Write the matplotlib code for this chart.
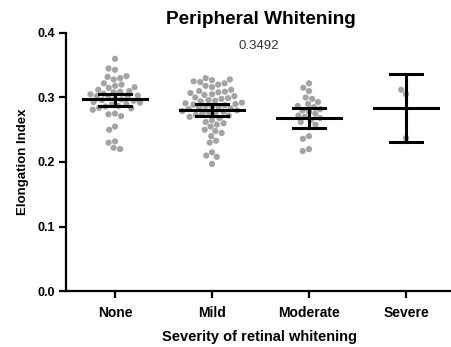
import numpy as np
import matplotlib
matplotlib.use("Agg")
import matplotlib.pyplot as plt

categories = ["None", "Mild", "Moderate", "Severe"]

none_vals = [0.360, 0.345, 0.343, 0.333, 0.332, 0.330, 0.328, 0.322, 0.320, 0.318,
             0.316, 0.315, 0.312, 0.310, 0.309, 0.308, 0.306, 0.305, 0.303, 0.302,
             0.300, 0.299, 0.298, 0.297, 0.296, 0.295, 0.293, 0.292, 0.290, 0.289,
             0.287, 0.286, 0.284, 0.283, 0.281, 0.275, 0.274, 0.271, 0.255, 0.250,
             0.232, 0.230, 0.222, 0.220]
mild_vals = [0.330, 0.328, 0.327, 0.325, 0.324, 0.322, 0.320, 0.318, 0.316, 0.312,
             0.310, 0.309, 0.308, 0.307, 0.305, 0.304, 0.302, 0.300, 0.299, 0.298,
             0.296, 0.295, 0.294, 0.292, 0.291, 0.290, 0.289, 0.288, 0.287, 0.286,
             0.285, 0.284, 0.283, 0.282, 0.280, 0.279, 0.278, 0.277, 0.276, 0.275,
             0.273, 0.272, 0.270, 0.268, 0.265, 0.262, 0.260, 0.258, 0.255, 0.250,
             0.248, 0.245, 0.240, 0.233, 0.230, 0.215, 0.210, 0.208, 0.197]
moderate_vals = [0.322, 0.315, 0.310, 0.300, 0.298, 0.293, 0.290, 0.287, 0.285, 0.282,
                 0.280, 0.278, 0.275, 0.272, 0.270, 0.268, 0.265, 0.262, 0.258, 0.240,
                 0.236, 0.220, 0.217]
severe_vals = [0.312, 0.305, 0.237]

group_values = [none_vals, mild_vals, moderate_vals, severe_vals]
means = [0.297, 0.281, 0.268, 0.284]
err_low = [0.287, 0.272, 0.253, 0.231]
err_high = [0.306, 0.290, 0.283, 0.337]

title = "Peripheral Whitening"
subtitle = "0.3492"
ylabel = "Elongation Index"
xlabel = "Severity of retinal whitening"
yticks = [0.0, 0.1, 0.2, 0.3, 0.4]

fig = plt.figure(figsize=(4.52, 3.47), dpi=100)
ax = fig.add_axes([66/452, 56/347, 386/452, 258/347])
ax.set_xlim(-0.505, 3.474)
ax.set_ylim(0, 0.4)

# pixel scales for swarm layout
xpx = 386 / (3.474 + 0.505)
ypx = 258 / 0.4
d = 6.6

def swarm(vals):
    ys = np.array(vals) * ypx
    order = np.argsort(np.abs(ys - np.median(ys)))
    placed = []
    xs = np.zeros(len(ys))
    for i in order:
        y = ys[i]
        cands = [0.0]
        for (px, py) in placed:
            dy = y - py
            if abs(dy) < d:
                dx = np.sqrt(d * d - dy * dy)
                cands += [px + dx, px - dx]
        cands.sort(key=lambda c: (abs(c), c))
        for c in cands:
            ok = True
            for (px, py) in placed:
                if (c - px) ** 2 + (y - py) ** 2 < d * d - 1e-6:
                    ok = False
                    break
            if ok:
                xs[i] = c
                placed.append((c, y))
                break
    return xs / xpx

for i, vals in enumerate(group_values):
    off = swarm(vals)
    ax.scatter(i + off, vals, s=20, color="#a3a3a3", edgecolors="none", zorder=2)
    ax.plot([i - 0.33, i + 0.33], [means[i], means[i]], color="black", lw=2.2, zorder=3)
    ax.plot([i, i], [err_low[i], err_high[i]], color="black", lw=2.2, zorder=3)
    for yv in (err_low[i], err_high[i]):
        ax.plot([i - 0.165, i + 0.165], [yv, yv], color="black", lw=2.2, zorder=3)

for s in ["top", "right"]:
    ax.spines[s].set_visible(False)
for s in ["left", "bottom"]:
    ax.spines[s].set_linewidth(1.6)

font = "Liberation Sans"
ax.set_xticks(range(len(categories)))
ax.set_xticklabels(categories, fontsize=10, fontweight="bold", family=font)
ax.set_yticks(yticks)
ax.set_yticklabels([f"{v:.1f}" for v in yticks], fontsize=9, fontweight="bold", family=font)
ax.tick_params(axis="both", direction="out", length=5, width=1.6, pad=3)
ax.tick_params(axis="x", pad=6)

ax.set_xlabel(xlabel, fontsize=10.5, fontweight="bold", family=font, labelpad=7)
ax.set_ylabel(ylabel, fontsize=9.5, fontweight="bold", family=font, labelpad=6)

fig.text(261/452, 1 - 19/347, title, ha="center", va="center", fontsize=13.7,
         fontweight="bold", family=font)
fig.text(259/452, 1 - 46/347, subtitle, ha="center", va="center", fontsize=9.5,
         family=font, color="#333333")

fig.savefig("out.png", dpi=100)
